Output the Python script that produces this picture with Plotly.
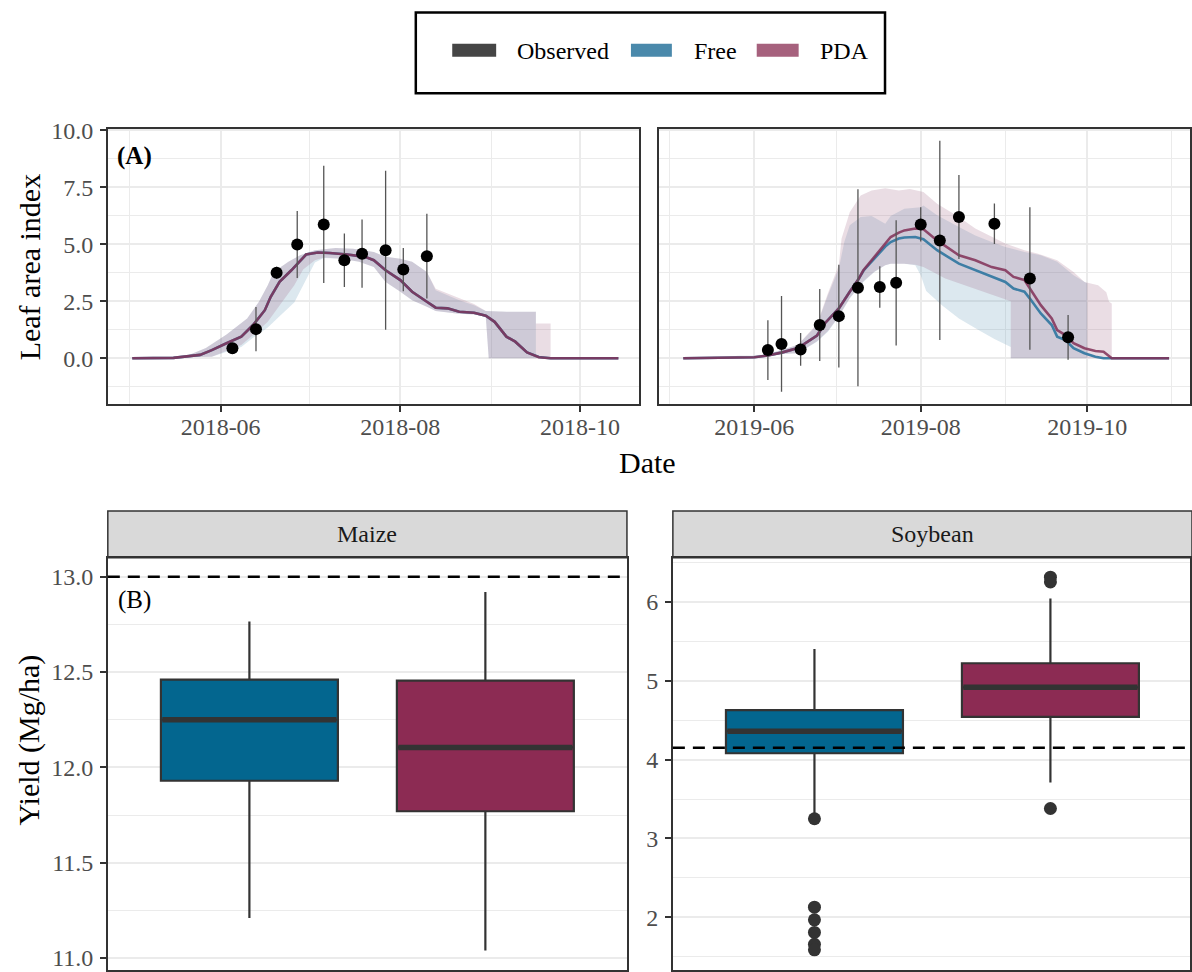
import plotly.graph_objects as go

W, H = 1192, 972
# the page photograph shows figure row y at 10.1 + 0.9885*y; positions below are in target-picture pixels
Y0, YS = 10.1, 0.9885
FONT = "Liberation Serif"

# ---------------- LAI data ----------------
line_dates_2018 = ["2018-05-02","2018-05-16","2018-05-25","2018-05-29","2018-06-03","2018-06-08","2018-06-12",
                   "2018-06-16","2018-06-18","2018-06-21","2018-06-25","2018-06-28","2018-06-30","2018-07-04",
                   "2018-07-08","2018-07-14","2018-07-20","2018-07-23","2018-07-27","2018-08-01","2018-08-05",
                   "2018-08-10","2018-08-13","2018-08-17","2018-08-21","2018-08-26","2018-08-30","2018-09-02",
                   "2018-09-06","2018-09-09","2018-09-13","2018-09-17","2018-09-21","2018-10-14"]
free_2018 = [0.00,0.02,0.15,0.36,0.66,0.95,1.46,2.11,2.70,3.35,3.86,4.30,4.55,4.64,4.62,4.55,4.45,4.30,
             3.86,3.43,2.92,2.48,2.22,2.19,2.04,2.00,1.87,1.60,0.95,0.73,0.26,0.06,0.00,0.00]
pda_2018 = [0.00,0.02,0.15,0.36,0.66,0.95,1.46,2.11,2.70,3.35,3.86,4.30,4.55,4.64,4.62,4.55,4.45,4.30,
            3.86,3.43,2.92,2.48,2.22,2.19,2.04,2.00,1.87,1.60,0.95,0.73,0.26,0.05,0.00,0.00]

free_up_dates_2018 = ["2018-05-02","2018-05-20","2018-05-27","2018-06-03","2018-06-10","2018-06-14","2018-06-17",
                      "2018-06-19","2018-06-24","2018-06-28","2018-07-03","2018-07-10","2018-07-16","2018-07-23",
                      "2018-07-27","2018-08-01","2018-08-05","2018-08-10","2018-08-13","2018-08-17","2018-08-21",
                      "2018-08-26","2018-08-30","2018-09-06","2018-09-16","2018-09-16","2018-10-14"]
free_up_2018 = [0.0,0.08,0.45,1.05,1.75,2.48,3.20,3.79,4.23,4.52,4.74,4.84,4.81,4.66,4.45,4.37,4.23,3.79,
                2.99,2.77,2.55,2.33,2.07,2.04,2.04,0.0,0.0]
pda_up_dates_2018 = ["2018-05-02","2018-05-20","2018-05-27","2018-06-03","2018-06-10","2018-06-14","2018-06-17",
                     "2018-06-19","2018-06-24","2018-06-28","2018-07-03","2018-07-10","2018-07-16","2018-07-23",
                     "2018-07-27","2018-08-01","2018-08-05","2018-08-10","2018-08-13","2018-08-17","2018-08-21",
                     "2018-08-26","2018-08-30","2018-09-06","2018-09-16","2018-09-16","2018-09-21","2018-09-21",
                     "2018-10-14"]
pda_up_2018 = [0.0,0.08,0.45,1.05,1.75,2.48,3.20,3.79,4.23,4.52,4.74,4.84,4.81,4.66,4.45,4.37,4.23,3.79,
               3.05,2.85,2.62,2.38,2.07,2.04,2.04,1.53,1.53,0.0,0.0]

free_lo_dates_2018 = ["2018-05-02","2018-05-29","2018-06-08","2018-06-12","2018-06-17","2018-06-21","2018-06-26",
                      "2018-06-29","2018-07-03","2018-07-06","2018-07-12","2018-07-18","2018-07-23","2018-07-27",
                      "2018-08-01","2018-08-05","2018-08-10","2018-08-13","2018-08-20","2018-08-26","2018-08-30",
                      "2018-08-31","2018-10-14"]
free_lo_2018 = [0.0,0.07,0.50,0.90,1.35,1.85,2.45,3.20,4.20,4.40,4.37,4.23,4.00,3.35,2.92,2.55,2.26,2.07,
                1.97,1.92,1.82,0.0,0.0]
pda_lo_2018 = [0.0,0.07,0.58,1.02,1.60,2.30,3.20,3.90,4.30,4.42,4.37,4.23,4.00,3.35,2.92,2.55,2.26,2.07,
               1.97,1.92,1.82,0.0,0.0]

obs_dates_2018 = ["2018-06-05","2018-06-13","2018-06-20","2018-06-27","2018-07-06","2018-07-13","2018-07-19",
                  "2018-07-27","2018-08-02","2018-08-10"]
obs_2018 = [0.44,1.28,3.75,4.99,5.87,4.30,4.59,4.74,3.89,4.48]
obs_sd_2018 = [0.05,0.97,0.27,1.47,2.57,1.17,1.50,3.49,0.95,1.86]

line_dates_2019 = ["2019-05-06","2019-05-21","2019-06-01","2019-06-06","2019-06-11","2019-06-17","2019-06-24",
                   "2019-06-27","2019-07-02","2019-07-06","2019-07-09","2019-07-11","2019-07-14","2019-07-16",
                   "2019-07-19","2019-07-21","2019-07-24","2019-07-26","2019-07-30","2019-08-02","2019-08-07",
                   "2019-08-15","2019-08-21","2019-08-27","2019-09-01","2019-09-04","2019-09-08","2019-09-10",
                   "2019-09-14","2019-09-18","2019-09-20","2019-09-23","2019-09-26","2019-09-30","2019-10-04",
                   "2019-10-07","2019-10-10","2019-10-31"]
pda_2019 = [0.00,0.01,0.05,0.12,0.25,0.45,1.00,1.55,2.19,2.92,3.43,3.86,4.30,4.59,5.03,5.32,5.51,5.61,5.69,
            5.66,5.17,4.52,4.30,4.00,3.86,3.57,3.43,3.06,2.33,1.75,1.24,1.02,0.66,0.44,0.32,0.29,0.00,0.00]
free_2019 = [0.00,0.01,0.05,0.12,0.25,0.45,1.00,1.55,2.19,2.92,3.43,3.84,4.25,4.52,4.90,5.10,5.25,5.30,5.32,
             5.22,4.74,4.15,3.86,3.57,3.35,3.06,2.92,2.62,1.97,1.46,0.95,0.80,0.44,0.22,0.07,0.00,0.00,0.00]

free_up_dates_2019 = ["2019-05-06","2019-06-05","2019-06-17","2019-06-24","2019-06-28","2019-07-02","2019-07-04",
                      "2019-07-06","2019-07-10","2019-07-14","2019-07-19","2019-07-21","2019-07-26","2019-08-01",
                      "2019-08-02","2019-08-07","2019-08-15","2019-08-21","2019-08-27","2019-09-01","2019-09-08",
                      "2019-09-14","2019-09-20","2019-09-26","2019-10-01","2019-10-01","2019-10-31"]
free_up_2019 = [0.0,0.15,0.58,1.46,2.77,3.94,5.10,5.83,6.20,6.24,5.90,6.24,6.56,6.63,6.70,6.27,5.76,5.39,
                5.10,4.88,4.66,4.52,4.23,3.64,3.28,0.0,0.0]
pda_up_dates_2019 = ["2019-05-06","2019-06-05","2019-06-17","2019-06-24","2019-06-28","2019-07-02","2019-07-03",
                     "2019-07-06","2019-07-10","2019-07-14","2019-07-19","2019-07-24","2019-07-28","2019-08-02",
                     "2019-08-07","2019-08-15","2019-08-21","2019-08-27","2019-09-01","2019-09-08","2019-09-13",
                     "2019-09-20","2019-09-26","2019-09-30","2019-10-05","2019-10-08","2019-10-09","2019-10-10",
                     "2019-10-10","2019-10-31"]
pda_up_2019 = [0.0,0.15,0.60,1.50,2.85,4.10,5.25,6.40,7.14,7.36,7.46,7.36,7.43,7.29,6.78,6.20,5.69,5.32,
               5.03,4.74,4.59,4.30,3.79,3.35,3.20,2.90,2.48,2.40,0.0,0.0]
free_lo_dates_2019 = ["2019-05-06","2019-06-17","2019-06-24","2019-06-28","2019-07-02","2019-07-06","2019-07-11",
                      "2019-07-15","2019-07-19","2019-07-21","2019-07-26","2019-07-30","2019-08-01","2019-08-03",
                      "2019-08-09","2019-08-15","2019-08-22","2019-08-28","2019-09-03","2019-09-03","2019-10-31"]
free_lo_2019 = [0.0,0.22,0.73,1.17,1.82,2.62,3.35,3.79,4.08,4.15,4.15,4.08,3.64,2.95,2.30,1.75,1.25,0.85,
                0.50,0.0,0.0]
pda_lo_dates_2019 = ["2019-05-06","2019-06-17","2019-06-24","2019-06-28","2019-07-02","2019-07-06","2019-07-11",
                     "2019-07-15","2019-07-19","2019-07-21","2019-07-26","2019-07-30","2019-08-02","2019-08-10",
                     "2019-08-22","2019-09-03","2019-09-03","2019-10-31"]
pda_lo_2019 = [0.0,0.22,0.75,1.20,1.85,2.65,3.38,3.80,4.08,4.15,4.15,4.10,4.00,3.50,3.00,2.50,0.0,0.0]

obs_dates_2019 = ["2019-06-06","2019-06-11","2019-06-18","2019-06-25","2019-07-02","2019-07-09","2019-07-17",
                  "2019-07-23","2019-08-01","2019-08-08","2019-08-15","2019-08-28","2019-09-10","2019-09-24"]
obs_2019 = [0.36,0.63,0.39,1.46,1.85,3.09,3.13,3.31,5.87,5.17,6.20,5.90,3.50,0.92]
obs_sd_2019 = [1.31,2.10,0.72,1.58,2.25,4.32,0.91,2.75,0.75,4.37,1.84,0.89,3.12,0.98]

# ---------------- Yield data ----------------
models = ["Free", "PDA"]
crops = ["Maize", "Soybean"]
maize_q1 = [11.93, 11.77]
maize_med = [12.25, 12.105]
maize_q3 = [12.46, 12.455]
maize_lo = [11.21, 11.04]
maize_hi = [12.765, 12.92]
maize_out = [[], []]
soy_q1 = [4.08, 4.54]
soy_med = [4.36, 4.915]
soy_q3 = [4.625, 5.22]
soy_lo = [3.28, 3.71]
soy_hi = [5.40, 6.04]
soy_out = [[3.25, 2.13, 1.97, 1.81, 1.66, 1.59], [6.31, 6.25, 3.38]]
observed_yield = [13.0, 4.15]

# ---------------- styles ----------------
LINE_COL = {"Free": "#3E7EA5", "PDA": "rgba(129,48,87,0.85)"}
RIB_COL = {"Free": "rgba(80,140,175,0.2)", "PDA": "rgba(150,85,120,0.2)"}
BOX_COL = {"Free": "#03668F", "PDA": "#8C2B53"}
KEY_COL = {"Observed": "#454545", "Free": "#4A89AB", "PDA": "#A6617D"}
GRID = "#EBEBEB"
TICKC = "#4D4D4D"


def px(x):
    return x / W


def py(y):
    # y given in target-picture pixels
    return 1 - ((y - Y0) / YS) / H


fig = go.Figure()

lai = [
    ("x", "y", line_dates_2018, {"Free": free_2018, "PDA": pda_2018},
     {"Free": (free_up_dates_2018, free_up_2018, free_lo_dates_2018, free_lo_2018),
      "PDA": (pda_up_dates_2018, pda_up_2018, free_lo_dates_2018, pda_lo_2018)},
     obs_dates_2018, obs_2018, obs_sd_2018),
    ("x2", "y2", line_dates_2019, {"Free": free_2019, "PDA": pda_2019},
     {"Free": (free_up_dates_2019, free_up_2019, free_lo_dates_2019, free_lo_2019),
      "PDA": (pda_up_dates_2019, pda_up_2019, pda_lo_dates_2019, pda_lo_2019)},
     obs_dates_2019, obs_2019, obs_sd_2019),
]

for xa, ya, ldates, lines, ribs, odates, obs, sd in lai:
    for m in models:
        ud, uv, ld, lv = ribs[m]
        fig.add_trace(go.Scatter(x=ud + ld[::-1], y=uv + lv[::-1], fill="toself",
                                 fillcolor=RIB_COL[m], line=dict(width=0), mode="lines",
                                 xaxis=xa, yaxis=ya, showlegend=False, hoverinfo="skip"))
    for m in models:
        fig.add_trace(go.Scatter(x=ldates, y=lines[m], mode="lines",
                                 line=dict(color=LINE_COL[m], width=2.6),
                                 xaxis=xa, yaxis=ya, showlegend=False))
    fig.add_trace(go.Scatter(x=odates, y=obs, mode="markers",
                             marker=dict(color="black", size=12),
                             error_y=dict(type="data", array=sd, symmetric=True,
                                          color="#555555", thickness=1.3, width=0),
                             xaxis=xa, yaxis=ya, showlegend=False))

# boxplots
box_sets = [
    ("x3", "y3", maize_q1, maize_med, maize_q3, maize_lo, maize_hi, maize_out),
    ("x4", "y4", soy_q1, soy_med, soy_q3, soy_lo, soy_hi, soy_out),
]
BW = 0.75
for xa, ya, q1, med, q3, lo, hi, outs in box_sets:
    for i, m in enumerate(models):
        fig.add_trace(go.Box(x=[i], q1=[q1[i]], median=[med[i]], q3=[q3[i]],
                             lowerfence=[lo[i]], upperfence=[hi[i]],
                             fillcolor=BOX_COL[m], line=dict(color="#333333", width=2.2),
                             width=BW, whiskerwidth=0, boxpoints=False,
                             xaxis=xa, yaxis=ya, showlegend=False))
        fig.add_trace(go.Scatter(x=[i - BW / 2 + 0.006, i + BW / 2 - 0.006], y=[med[i], med[i]],
                                 mode="lines", line=dict(color="#333333", width=5.5),
                                 xaxis=xa, yaxis=ya, showlegend=False, hoverinfo="skip"))
        if outs[i]:
            fig.add_trace(go.Scatter(x=[i] * len(outs[i]), y=outs[i], mode="markers",
                                     marker=dict(color="#333333", size=13),
                                     xaxis=xa, yaxis=ya, showlegend=False))

# ---------------- axes ----------------
tickfont = dict(family=FONT, size=24, color=TICKC)
common_line = dict(showline=True, linecolor="#333333", linewidth=1.5, mirror=True, zeroline=False)

date_axis = dict(type="date", tickformat="%Y-%m", dtick="M2", showgrid=True, gridcolor=GRID, gridwidth=2,
                 ticks="outside", ticklen=6, tickwidth=1.5, tickcolor="#333333", tickfont=tickfont,
                 ticklabelstandoff=-6, **common_line)
yaxis_common = dict(ticks="outside", ticklen=6, tickwidth=1.5, tickcolor="#333333", tickfont=tickfont,
                    ticklabelstandoff=2, ticklabeloverflow="allow", showgrid=True, gridcolor=GRID,
                    gridwidth=2, **common_line)
fig.update_layout(
    xaxis=dict(domain=[px(108), px(640)], anchor="y", range=["2018-04-23 17:00", "2018-10-20 23:30"],
               tick0="2018-06-01",
               minor=dict(dtick="M2", tick0="2018-05-01", showgrid=True, gridcolor=GRID, gridwidth=1.2),
               **date_axis),
    xaxis2=dict(domain=[px(660.5), 1.0], anchor="y2", range=["2019-04-27 06:00", "2019-11-07 16:00"],
                tick0="2019-06-01",
                minor=dict(dtick="M2", tick0="2019-05-01", showgrid=True, gridcolor=GRID, gridwidth=1.2),
                **date_axis),
    yaxis=dict(domain=[py(404), py(128)], anchor="x", range=[-2.01, 10.07], tick0=0, dtick=2.5,
               tickformat=".1f",
               minor=dict(dtick=1.25, tick0=0, showgrid=True, gridcolor=GRID, gridwidth=1.2),
               **yaxis_common),
    yaxis2=dict(domain=[py(404), py(128)], anchor="x2", matches="y", showticklabels=False, ticks="",
                tick0=0, dtick=2.5, showgrid=True, gridcolor=GRID, gridwidth=2,
                minor=dict(dtick=1.25, tick0=0, showgrid=True, gridcolor=GRID, gridwidth=1.2),
                **common_line),
    xaxis3=dict(domain=[px(108), px(628)], anchor="y3", range=[-0.6, 1.6], showticklabels=False,
                showgrid=False, ticks="", **common_line),
    yaxis3=dict(domain=[max(py(971), 0.0005), py(558)], anchor="x3", range=[10.94, 13.099], tick0=11,
                dtick=0.5, tickformat=".1f",
                minor=dict(dtick=0.25, tick0=11, showgrid=True, gridcolor=GRID, gridwidth=1.2),
                **yaxis_common),
    xaxis4=dict(domain=[px(674), 1.0], anchor="y4", range=[-0.6, 1.6 - 2.2 * 2 / 520], showticklabels=False,
                showgrid=False, ticks="", **common_line),
    yaxis4=dict(domain=[max(py(971), 0.0005), py(558)], anchor="x4", range=[1.34, 6.555], tick0=2, dtick=1,
                minor=dict(dtick=0.5, tick0=2, showgrid=True, gridcolor=GRID, gridwidth=1.2),
                **yaxis_common),
)

shapes = []
annotations = []

# dashed observed-yield lines
for (xa, ya), val in zip([("x3", "y3"), ("x4", "y4")], observed_yield):
    shapes.append(dict(type="line", xref=f"{xa} domain", yref=ya, x0=0, x1=1, y0=val, y1=val,
                       line=dict(color="black", width=2.6, dash="12px,8px"), layer="above"))

# facet strips
for crop, (x0, x1) in zip(crops, [(108, 628), (674, 1194)]):
    shapes.append(dict(type="rect", xref="paper", yref="paper", x0=px(x0), x1=px(x1), y0=py(558), y1=py(511),
                       fillcolor="#D9D9D9", line=dict(color="#333333", width=1.5), layer="below"))
    annotations.append(dict(text=crop, xref="paper", yref="paper", x=px((x0 + x1) / 2), y=py(534.5),
                            showarrow=False, xanchor="center", yanchor="middle",
                            font=dict(family=FONT, size=24, color="#1A1A1A")))

# legend (manual)
shapes.append(dict(type="rect", xref="paper", yref="paper", x0=px(416.5), x1=px(886.5), y0=py(92.5),
                   y1=py(11.5), fillcolor="white", line=dict(color="black", width=2.5)))
for name, kx0, kx1, tx in [("Observed", 453, 497, 516), ("Free", 632, 673, 693), ("PDA", 758, 800, 819)]:
    shapes.append(dict(type="rect", xref="paper", yref="paper", x0=px(kx0), x1=px(kx1), y0=py(56), y1=py(43),
                       fillcolor=KEY_COL[name], line=dict(width=0)))
    annotations.append(dict(text=name, xref="paper", yref="paper", x=px(tx), y=py(50), showarrow=False,
                            xanchor="left", yanchor="middle", font=dict(family=FONT, size=24, color="black")))

# titles & panel tags
annotations += [
    dict(text="Leaf area index", xref="paper", yref="paper", x=px(29), y=py(266), textangle=-90,
         showarrow=False, xanchor="center", yanchor="middle", font=dict(family=FONT, size=30, color="black")),
    dict(text="Date", xref="paper", yref="paper", x=px(649), y=py(462), showarrow=False,
         xanchor="center", yanchor="middle", font=dict(family=FONT, size=30, color="black")),
    dict(text="Yield (Mg/ha)", xref="paper", yref="paper", x=px(29), y=py(740), textangle=-90,
         showarrow=False, xanchor="center", yanchor="middle", font=dict(family=FONT, size=30, color="black")),
    dict(text="<b>(A)</b>", xref="paper", yref="paper", x=px(115), y=py(155), showarrow=False,
         xanchor="left", yanchor="middle", font=dict(family=FONT, size=25, color="black")),
    dict(text="(B)", xref="paper", yref="paper", x=px(116), y=py(600), showarrow=False,
         xanchor="left", yanchor="middle", font=dict(family=FONT, size=25, color="black")),
]

fig.update_layout(width=W, height=H, margin=dict(l=0, r=0, t=0, b=0), paper_bgcolor="white",
                  plot_bgcolor="white", showlegend=False, shapes=shapes, annotations=annotations,
                  font=dict(family=FONT))

fig.write_html("out.html")
